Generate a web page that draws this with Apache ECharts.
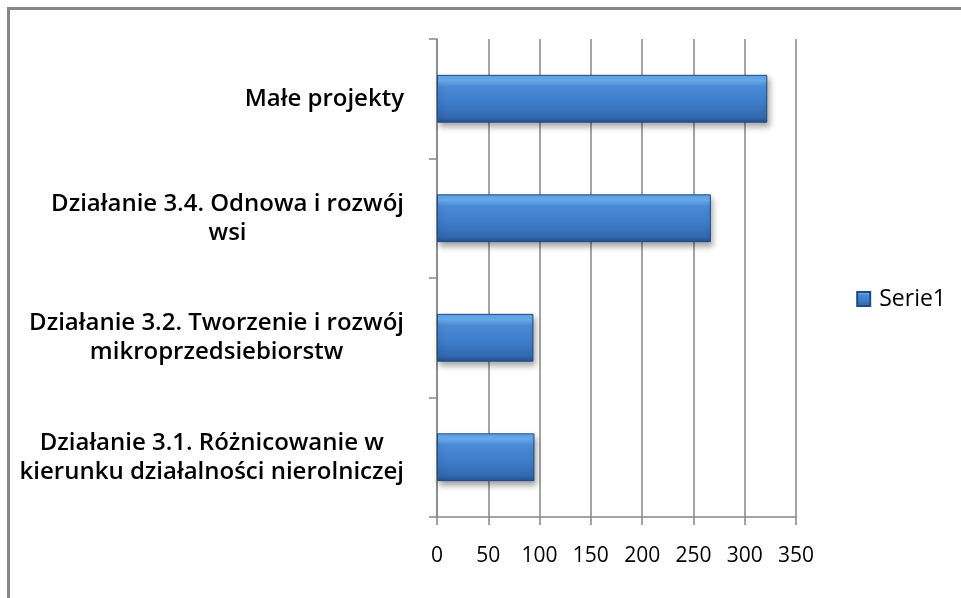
<!DOCTYPE html>
<html>
<head>
<meta charset="utf-8">
<script src="https://cdn.jsdelivr.net/npm/echarts@6/dist/echarts.min.js"></script>
<style>html,body{margin:0;padding:0;background:#fff}#c{width:961px;height:598px}</style>
</head>
<body>
<div id="c"></div>
<script>
const categories = [
  "Działanie 3.1. Różnicowanie w\nkierunku działalności nierolniczej",
  "Działanie 3.2. Tworzenie i rozwój\nmikroprzedsiebiorstw",
  "Działanie 3.4. Odnowa i rozwój\nwsi",
  "Małe projekty"
];
const seriesName = "Serie1";
const values = [95, 94, 267, 322];
const xTicks = { min: 0, max: 350, interval: 50 };

const chart = echarts.init(document.getElementById('c'), null, { renderer: 'canvas' });
const fontFam = '"Open Sans", sans-serif';
const barGrad = new echarts.graphic.LinearGradient(0, 0, 0, 1, [
  { offset: 0, color: '#5ea4ec' },
  { offset: 0.12, color: '#6cb0f2' },
  { offset: 0.25, color: '#4a8ad6' },
  { offset: 0.6, color: '#3d7cc8' },
  { offset: 0.88, color: '#3369b0' },
  { offset: 1, color: '#24528f' }
]);
chart.setOption({
  animation: false,
  backgroundColor: '#fff',
  graphic: [{
    type: 'rect',
    shape: { x: 8.5, y: 8.5, width: 1100, height: 1100 },
    style: { fill: 'none', stroke: '#878787', lineWidth: 3 },
    silent: true, z: -1
  }],
  grid: { left: 437, right: 165, top: 39, bottom: 81, containLabel: false },
  legend: {
    data: [seriesName],
    right: 10, top: 'middle',
    itemWidth: 13, itemHeight: 14, itemGap: 9,
    icon: 'rect',
    textStyle: { fontFamily: fontFam, fontSize: 23, color: '#000', padding: [0, 0, 0, 4] }
  },
  xAxis: {
    type: 'value',
    min: xTicks.min, max: xTicks.max, interval: xTicks.interval,
    axisLine: { show: true, lineStyle: { color: '#868686', width: 1.5 } },
    axisTick: { show: true, length: 8, lineStyle: { color: '#868686', width: 1.5 } },
    splitLine: { show: true, lineStyle: { color: '#868686', width: 1.5 } },
    axisLabel: { margin: 29, fontFamily: fontFam, fontSize: 21, color: '#000' }
  },
  yAxis: {
    type: 'category',
    data: categories,
    axisLine: { show: true, lineStyle: { color: '#868686', width: 1.5 } },
    axisTick: { show: true, length: 8, lineStyle: { color: '#868686', width: 1.5 } },
    axisLabel: {
      margin: 33,
      align: 'right',
      fontFamily: fontFam, fontSize: 24, fontWeight: 600, color: '#000', lineHeight: 29,
      formatter: function (v) {
        return v.split('\n').map(function (l) { return '{c|' + l + '}'; }).join('\n');
      },
      rich: { c: { align: 'center', fontFamily: fontFam, fontSize: 24, fontWeight: 600, color: '#000', lineHeight: 29 } }
    }
  },
  series: [{
    name: seriesName,
    type: 'bar',
    data: values,
    barWidth: '40%',
    itemStyle: {
      color: barGrad,
      borderColor: '#1f4a82',
      borderWidth: 1,
      shadowColor: 'rgba(0,0,0,0.35)',
      shadowBlur: 6,
      shadowOffsetX: 2,
      shadowOffsetY: 4
    }
  }]
});
</script>
</body>
</html>
